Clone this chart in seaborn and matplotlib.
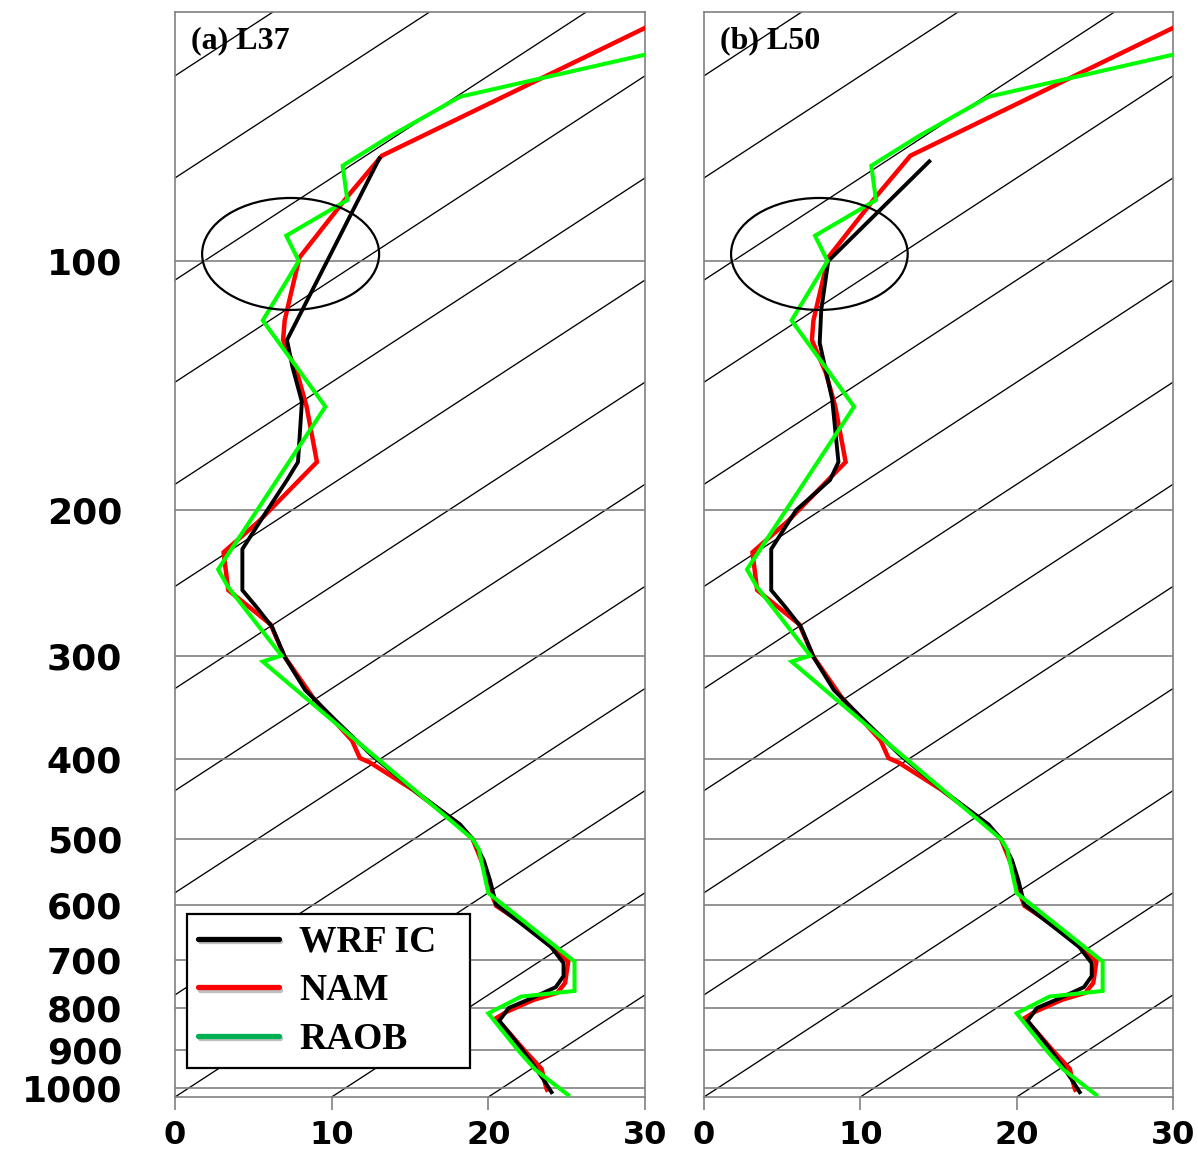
import numpy as np
import pandas as pd
import matplotlib
matplotlib.use("Agg")
import matplotlib.pyplot as plt
import seaborn as sns
from matplotlib.patches import Ellipse
from matplotlib.lines import Line2D
from matplotlib.ticker import FixedLocator, NullFormatter
import matplotlib.patheffects as pe

# ---------------- data ----------------
levels = [100, 200, 300, 400, 500, 600, 700, 800, 900, 1000]
level_labels = ["100", "200", "300", "400", "500", "600", "700", "800", "900", "1000"]
ext_levels = [500, 600, 700, 800, 900, 1000]
x_ticks = [0, 10, 20, 30]
x_tick_labels = ["0", "10", "20", "30"]
panel_titles = ["(a) L37", "(b) L50"]
series_names = ["WRF IC", "NAM", "RAOB"]

raob_p = [55.2, 63.3, 70.7, 76.7, 84.4, 93.2, 100, 118, 150, 236, 248, 300, 305,
          500, 515, 581, 703, 763, 775, 812, 900, 950, 1023]
raob_x = [32.0, 18.2, 13.7, 10.7, 11.0, 7.1, 7.9, 5.6, 9.6, 2.75, 3.4, 6.8, 5.6,
          19.0, 19.4, 20.0, 25.5, 25.5, 22.1, 20.0, 21.9, 23.0, 25.2]

nam_p = [50.1, 74.6, 83.6, 99, 107.5, 118, 124.6, 136.6, 150, 175, 206, 225, 250, 275,
         301, 337, 380, 399, 404, 436, 478, 500, 545, 575, 602, 637, 684, 703, 746,
         767, 782, 808, 823, 856, 900, 948, 1000, 1010]
nam_x = [32.0, 13.2, 11.0, 7.95, 7.5, 7.0, 6.9, 7.8, 8.4, 9.06, 5.4, 3.1, 3.4, 6.1,
         7.0, 8.8, 11.3, 11.8, 12.45, 15.2, 18.0, 19.0, 19.8, 20.1, 20.5, 22.45, 24.4,
         25.1, 24.9, 24.4, 22.9, 21.2, 20.5, 21.3, 22.3, 23.4, 23.7, 23.8]

# WRF IC: upper part differs between the two runs, lower part shared
wrf_a_upper_p = [74.8, 124.6, 134.4, 148, 175, 184]
wrf_a_upper_x = [13.1, 7.15, 7.5, 8.1, 7.85, 7.15]
wrf_b_upper_p = [75.5, 100, 114.6, 125.6, 147, 175, 184]
wrf_b_upper_x = [14.5, 7.95, 7.5, 7.4, 8.2, 8.6, 8.06]
wrf_lower_p = [200, 223, 250, 262, 277, 301, 330, 360, 395, 440, 480, 500, 530, 560,
               600, 637, 675, 706, 732, 755, 778, 800, 829, 861, 900, 939, 975, 1016]
wrf_lower_x = [5.9, 4.3, 4.3, 5.2, 6.2, 7.0, 8.3, 10.3, 12.5, 15.5, 18.2, 19.0, 19.7,
               20.1, 20.5, 22.3, 24.0, 24.8, 24.8, 24.3, 22.8, 21.3, 20.7, 21.4, 22.2,
               22.9, 23.5, 24.1]

# ---------------- style ----------------
sns.set_style("white")
plt.rcParams["font.family"] = ["DejaVu Sans"]
plt.rcParams["text.color"] = "black"

P_BOT, P_TOP = 1025, 50
K_SKEW = 81.0
GREY = "#808080"

fig = plt.figure(figsize=(11.98, 11.54), dpi=100)
ax_a = fig.add_axes([175 / 1198, 57 / 1154, 470 / 1198, 1085 / 1154])
ax_b = fig.add_axes([704 / 1198, 57 / 1154, 469 / 1198, 1085 / 1154])

line_styles = {
    "NAM": dict(color="#ff0000", lw=3.2, zorder=4),
    "WRF IC": dict(color="#000000", lw=2.8, zorder=5),
    "RAOB": dict(color="#00ff00", lw=2.9, zorder=6),
}

panels = [
    (ax_a, wrf_a_upper_x + wrf_lower_x, wrf_a_upper_p + wrf_lower_p, panel_titles[0], True),
    (ax_b, wrf_b_upper_x + wrf_lower_x, wrf_b_upper_p + wrf_lower_p, panel_titles[1], False),
]

for ax, wx, wp, title, show_labels in panels:
    ax.set_yscale("log")
    # skewed isotherms
    for c in range(-130, 31, 10):
        ax.plot([c, c + K_SKEW * np.log10(P_BOT / P_TOP)], [P_BOT, P_TOP],
                color="black", lw=0.95, zorder=1)
    # pressure lines
    for lvl in levels:
        ax.axhline(lvl, color=GREY, lw=1.2, zorder=2)

    frames = {
        "NAM": pd.DataFrame({"value": nam_x, "pressure": nam_p}),
        "WRF IC": pd.DataFrame({"value": wx, "pressure": wp}),
        "RAOB": pd.DataFrame({"value": raob_x, "pressure": raob_p}),
    }
    for name in ["NAM", "WRF IC", "RAOB"]:
        st = line_styles[name]
        sns.lineplot(data=frames[name], x="value", y="pressure", sort=False,
                     estimator=None, ax=ax, color=st["color"], lw=st["lw"],
                     zorder=st["zorder"], legend=False,
                     solid_joinstyle="miter", solid_capstyle="butt")

    ax.set_xlim(0, 30)
    ax.set_ylim(P_BOT, P_TOP)
    ax.set_xlabel("")
    ax.set_ylabel("")

    ax.set_xticks(x_ticks, labels=x_tick_labels)
    if show_labels:
        ax.set_yticks(levels, labels=level_labels)
    else:
        ax.set_yticks(levels, labels=[""] * len(levels))
    ax.yaxis.set_minor_locator(FixedLocator(ext_levels))
    ax.yaxis.set_minor_formatter(NullFormatter())

    ax.tick_params(axis="y", which="major", length=0, pad=38, left=True,
                   labelleft=show_labels, labelcolor="black")
    ax.tick_params(axis="y", which="minor", length=14.4, width=1.2, color=GREY, left=True)
    ax.tick_params(axis="x", which="major", length=9.5, width=1.2, color=GREY,
                   pad=7, bottom=True, labelcolor="black")
    for t in ax.get_xticklabels():
        t.set_fontweight("bold")
        t.set_fontsize(23)
    for t in ax.get_yticklabels():
        t.set_fontweight("bold")
        t.set_fontsize(26)

    for sp in ax.spines.values():
        sp.set_visible(True)
        sp.set_color(GREY)
        sp.set_linewidth(1.2)
        sp.set_zorder(3)

    ax.text(0.034, 0.967, title, transform=ax.transAxes, ha="left", va="baseline",
            fontsize=23, fontweight="bold", color="black",
            family=["Liberation Serif", "DejaVu Serif"], zorder=8)

    ax.add_patch(Ellipse((0.246, 0.777), 0.3766, 0.1032, transform=ax.transAxes,
                         fill=False, edgecolor="black", lw=1.6, zorder=7))

# legend (panel a)
shadow = [pe.SimpleLineShadow(offset=(1, -2), alpha=0.25), pe.Normal()]
handles = [
    Line2D([], [], color="#000000", lw=3.8, path_effects=shadow),
    Line2D([], [], color="#ff0000", lw=3.8, path_effects=shadow),
    Line2D([], [], color="#00b050", lw=3.8, path_effects=shadow),
]
leg = ax_a.legend(handles, series_names, loc="lower left",
                  bbox_to_anchor=(0.0255, 0.0267, 0.602, 0.1), mode="expand",
                  borderaxespad=0,
                  prop=dict(family=["Liberation Serif", "DejaVu Serif"], weight="bold", size=27),
                  handlelength=2.15, handletextpad=0.55, labelspacing=0.36,
                  borderpad=0.3, fancybox=False, framealpha=1, edgecolor="black",
                  labelcolor="black")
leg.get_frame().set_linewidth(1.6)
leg.set_zorder(10)

fig.savefig("out.png", dpi=100)
